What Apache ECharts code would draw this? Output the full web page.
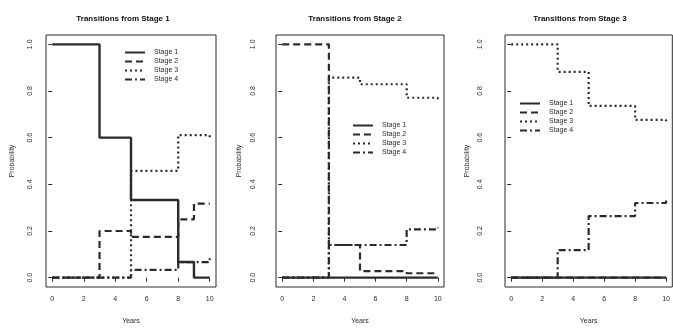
<!DOCTYPE html>
<html>
<head>
<meta charset="utf-8">
<script src="https://cdn.jsdelivr.net/npm/echarts@6/dist/echarts.min.js"></script>
<style>
  html, body { margin: 0; padding: 0; background: #fff; }
  #chart { width: 673px; height: 330px; }
</style>
</head>
<body>
<div id="chart"></div>
<script>
// tick labels
const yearTicks = [0, 2, 4, 6, 8, 10];
const probTicks = [0, 0.2, 0.4, 0.6, 0.8, 1.0];
const stageNames = ['Stage 1', 'Stage 2', 'Stage 3', 'Stage 4'];
const panelTitles = ['Transitions from Stage 1', 'Transitions from Stage 2', 'Transitions from Stage 3'];

// [year, probability] — value holds until the next year
const from1Stage1 = [[0, 1], [3, 0.6], [5, 0.333], [8, 0.067], [9, 0], [10, 0]];
const from1Stage2 = [[0, 0], [3, 0.2], [5, 0.175], [8, 0.25], [9, 0.317], [10, 0.317]];
const from1Stage3 = [[0, 0], [5, 0.458], [8, 0.611], [10, 0.6]];
const from1Stage4 = [[0, 0], [5, 0.033], [8, 0.067], [10, 0.083]];

const from2Stage1 = [[0, 0], [10, 0]];
const from2Stage2 = [[0, 1], [3, 0.14], [5, 0.028], [8, 0.019], [10, 0.019]];
const from2Stage3 = [[0, 0], [3, 0.857], [5, 0.829], [8, 0.771], [10, 0.765]];
const from2Stage4 = [[0, 0], [3, 0.14], [8, 0.207], [10, 0.215]];

const from3Stage1 = [[0, 0], [10, 0]];
const from3Stage2 = [[0, 0], [10, 0]];
const from3Stage3 = [[0, 1], [3, 0.882], [5, 0.736], [8, 0.676], [10, 0.67]];
const from3Stage4 = [[0, 0], [3, 0.118], [5, 0.264], [8, 0.32], [10, 0.34]];

const panels = [
  [from1Stage1, from1Stage2, from1Stage3, from1Stage4],
  [from2Stage1, from2Stage2, from2Stage3, from2Stage4],
  [from3Stage1, from3Stage2, from3Stage3, from3Stage4]
];

const ink = '#2b2b2b';
const font = 'Liberation Sans, Arial, sans-serif';
const dashes = ['solid', [7, 4], [2, 3], [7, 3, 2, 3]];
const widths = [2.4, 2.2, 2.2, 2.2];

// plot boxes, roughly as R laid them out
const boxes = [
  { left: 46, width: 170, labelGap: 12, nameGap: 30 },
  { left: 276, width: 168, labelGap: 19, nameGap: 33 },
  { left: 505, width: 168, labelGap: 21, nameGap: 34 }
];
const titleX = [118, 350, 575];
const legendPos = [[124, 49], [352, 122], [519, 100]];

const chart = echarts.init(document.getElementById('chart'));

const grid = boxes.map(b => ({
  left: b.left, top: 35, width: b.width, height: 260,
  show: true, borderColor: ink, borderWidth: 1, backgroundColor: 'transparent'
}));

const xAxis = boxes.map((b, i) => ({
  type: 'value', gridIndex: i, min: -0.4, max: 10.4,
  name: 'Years', nameLocation: 'middle', nameGap: 31,
  nameTextStyle: { color: ink, fontSize: 7, fontFamily: font },
  axisLine: { show: false },
  splitLine: { show: false },
  axisTick: { show: true, length: 4, customValues: yearTicks, lineStyle: { color: ink } },
  axisLabel: { customValues: yearTicks, color: ink, fontSize: 7, fontFamily: font, margin: 9 }
}));

const yAxis = boxes.map((b, i) => ({
  type: 'value', gridIndex: i, min: -0.04, max: 1.04,
  name: 'Probability', nameLocation: 'middle', nameGap: b.nameGap, nameRotate: 90,
  nameTextStyle: { color: ink, fontSize: 7, fontFamily: font },
  axisLine: { show: false },
  splitLine: { show: false },
  axisTick: { show: true, length: 4, customValues: probTicks, lineStyle: { color: ink } },
  axisLabel: {
    customValues: probTicks, rotate: 90, color: ink, fontSize: 7, fontFamily: font,
    margin: b.labelGap, formatter: v => v.toFixed(1)
  }
}));

const series = [];
panels.forEach((stages, p) => {
  stages.forEach((pts, s) => {
    series.push({
      name: stageNames[s], type: 'line', step: 'end',
      xAxisIndex: p, yAxisIndex: p,
      data: pts, symbol: 'none', animation: false,
      lineStyle: { color: ink, width: widths[s], type: dashes[s] },
      itemStyle: { color: ink, opacity: 0 }
    });
  });
});

const title = panelTitles.map((t, i) => ({
  text: t, left: titleX[i], top: 10, textAlign: 'center',
  textStyle: { color: '#111', fontSize: 8, fontWeight: 'bold', fontFamily: font }
}));

// legend keys are line only, no marker
const legend = legendPos.map(pos => ({
  data: stageNames, orient: 'vertical', left: pos[0], top: pos[1],
  itemWidth: 20, itemHeight: 8, itemGap: 2, padding: 0,
  selectedMode: false,
  itemStyle: { opacity: 0 },
  textStyle: { color: ink, fontSize: 7, fontFamily: font, padding: [0, 0, 0, 4] }
}));

chart.setOption({
  backgroundColor: '#fff',
  animation: false,
  title: title,
  legend: legend,
  grid: grid,
  xAxis: xAxis,
  yAxis: yAxis,
  series: series
});
</script>
</body>
</html>
